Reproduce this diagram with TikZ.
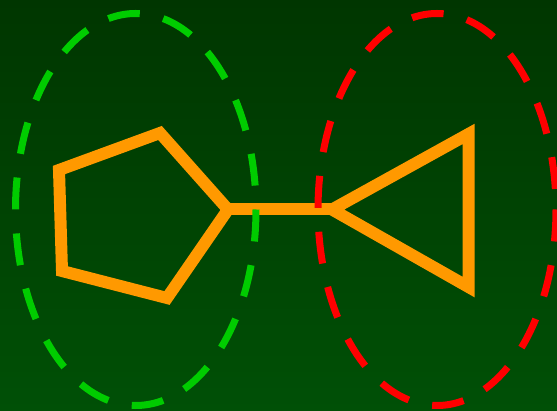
\documentclass[tikz,border=0pt]{standalone}
\usetikzlibrary{calc}
\definecolor{bgtop}{RGB}{0,54,0}
\definecolor{bgbot}{RGB}{0,80,6}
\definecolor{ringgreen}{RGB}{0,204,0}
\definecolor{ringred}{RGB}{255,0,0}
\definecolor{bond}{RGB}{255,153,0}
\tikzset{
  bondline/.style={draw=bond, line width=12pt, line join=miter, miter limit=10},
  ring/.style={line width=7pt, dash pattern=on 32pt off 24pt},
}
\begin{document}
\begin{tikzpicture}[x=1pt,y=-1pt]
\useasboundingbox (0,0) rectangle (557,411);
\shade[top color=bgtop, bottom color=bgbot] (0,0) rectangle (557,411);
% pentagon vertices
\coordinate (p1) at (59,170);
\coordinate (p2) at (160,133);
\coordinate (p3) at (228,209.5);
\coordinate (p4) at (167,298);
\coordinate (p5) at (62,271);
% triangle vertices
\coordinate (t1) at (332,209.5);
\coordinate (t2) at (468.5,134);
\coordinate (t3) at (468.5,287);
\draw[bondline] (p1) -- (p2) -- (p3) -- (p4) -- (p5) -- cycle;
\draw[bondline] (p3) -- (t1);
\draw[bondline] (t1) -- (t2) -- (t3) -- cycle;
% rings
\coordinate (gc) at (135.75,209.5);
\coordinate (rc) at (437,209.5);
\draw[ring, draw=ringgreen] (gc) ellipse [x radius=120.25, y radius=196];
\draw[ring, draw=ringred] (rc) ellipse [x radius=119, y radius=196];
\end{tikzpicture}
\end{document}
